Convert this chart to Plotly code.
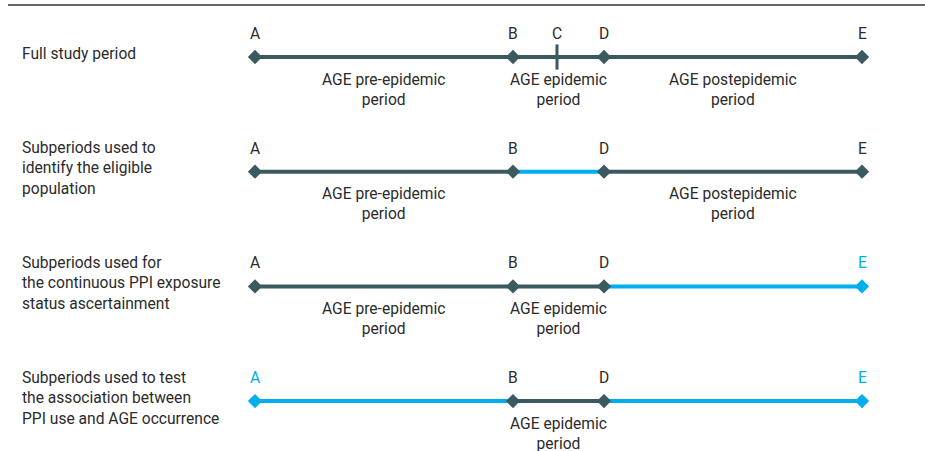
import plotly.graph_objects as go

# ---- data ----
point_names = ["A", "B", "C", "D", "E"]
point_pos = [0.0, 42.5, 49.75, 57.5, 100.0]          # relative timeline position
row_labels = [
    "Full study period",
    "Subperiods used to<br>identify the eligible<br>population",
    "Subperiods used for<br>the continuous PPI exposure<br>status ascertainment",
    "Subperiods used to test<br>the association between<br>PPI use and AGE occurrence",
]
segments = [("A", "B"), ("B", "D"), ("D", "E")]
# colour key per segment: 0 = dark, 1 = highlighted
segment_hl = [[0, 0, 0], [0, 1, 0], [0, 0, 1], [1, 0, 1]]
row_points = [["A", "B", "D", "E"]] * 4
point_hl = [[0, 0, 0, 0], [0, 0, 0, 0], [0, 0, 0, 1], [1, 0, 0, 1]]
tick_points = [["C"], [], [], []]
period_names = ["AGE pre-epidemic<br>period", "AGE epidemic<br>period", "AGE postepidemic<br>period"]
row_periods = [[0, 1, 2], [0, 2], [0, 1], [1]]

DARK = "#3b5a60"
BLUE = "#00aeef"
TXT = "#2b2b2b"
cols = [DARK, BLUE]
FONT = "Roboto"
FS = 15.6
pos = dict(zip(point_names, point_pos))

fig = go.Figure()
ann = []
for r in range(4):
    for si, (p, q) in enumerate(segments):
        fig.add_trace(go.Scatter(x=[pos[p], pos[q]], y=[r, r], mode="lines",
                                 line=dict(color=cols[segment_hl[r][si]], width=4),
                                 hoverinfo="skip", showlegend=False))
    for t in tick_points[r]:
        fig.add_trace(go.Scatter(x=[pos[t]], y=[r], mode="markers",
                                 marker=dict(symbol="line-ns", size=18, line=dict(color=DARK, width=3)),
                                 hoverinfo="skip", showlegend=False))
        ann.append(dict(x=pos[t], y=r, text=t, showarrow=False, xref="x", yref="y",
                        yshift=23, font=dict(color=TXT, size=FS, family=FONT)))
    pts = row_points[r]
    fig.add_trace(go.Scatter(x=[pos[p] for p in pts], y=[r] * len(pts), mode="markers",
                             marker=dict(symbol="diamond", size=11,
                                         color=[cols[h] for h in point_hl[r]]),
                             hoverinfo="skip", showlegend=False))
    for p, h in zip(pts, point_hl[r]):
        ann.append(dict(x=pos[p], y=r, text=p, showarrow=False, xref="x", yref="y",
                        yshift=23, font=dict(color=TXT if h == 0 else BLUE, size=FS, family=FONT)))
    for k in row_periods[r]:
        p, q = segments[k]
        ann.append(dict(x=(pos[p] + pos[q]) / 2, y=r, text=period_names[k], showarrow=False,
                        xref="x", yref="y", yshift=-32.5,
                        font=dict(color=TXT, size=FS, family=FONT)))
    ann.append(dict(x=20 / 925, y=r, text=row_labels[r], showarrow=False, xref="paper", yref="y",
                    xanchor="left", yanchor="middle", yshift=3, align="left",
                    font=dict(color=TXT, size=FS, family=FONT)))

fig.add_shape(type="line", xref="paper", yref="paper", x0=8 / 925, x1=1,
              y0=1 - 5 / 451, y1=1 - 5 / 451, line=dict(color="#333", width=1.5))

px_per_unit = 607 / 100
fig.update_layout(
    width=925, height=451, margin=dict(l=0, r=0, t=0, b=0),
    paper_bgcolor="white", plot_bgcolor="white",
    xaxis=dict(range=[-255 / px_per_unit, (925 - 255) / px_per_unit], visible=False),
    yaxis=dict(range=[(451 - 57) / 114.7, -57 / 114.7], visible=False),
    annotations=ann,
)
fig.write_html("out.html", config={"displayModeBar": False},
               post_script="document.body.style.margin='0px';document.body.style.overflow='hidden';")
